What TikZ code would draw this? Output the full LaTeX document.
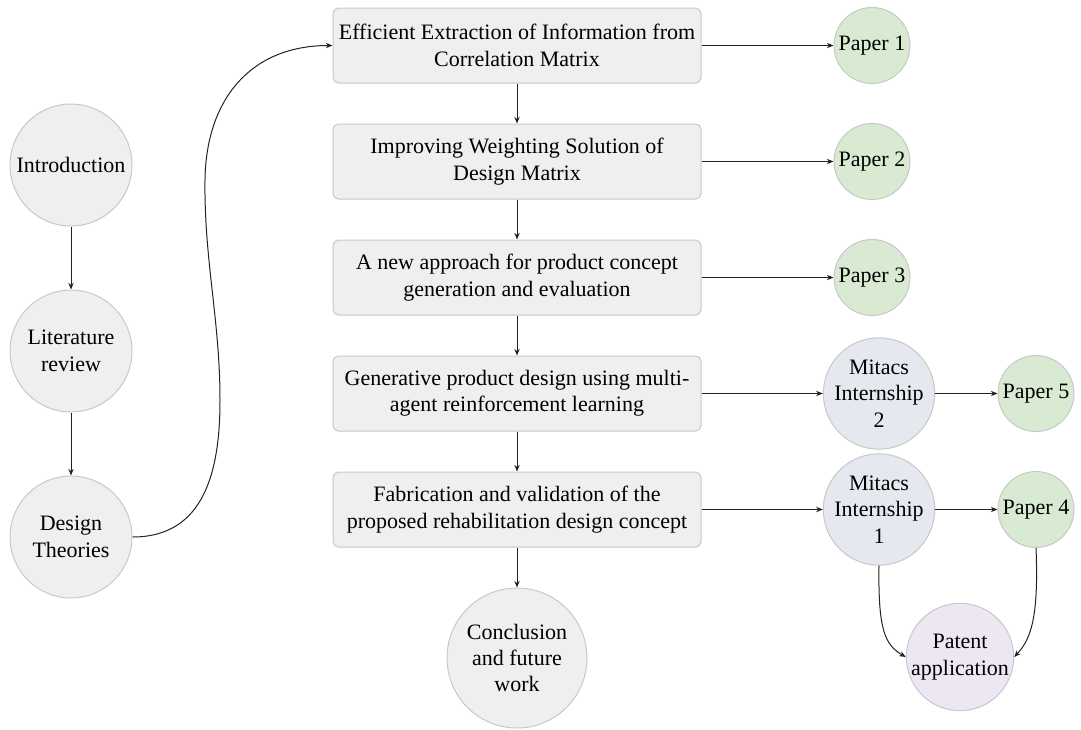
\documentclass[tikz,border=0pt]{standalone}
\usepackage{fontspec}
\setmainfont{Liberation Serif}
\usetikzlibrary{arrows.meta}
\definecolor{nodegray}{HTML}{EFEFEF}
\definecolor{edgegray}{HTML}{C8C8C8}
\definecolor{papergreen}{HTML}{D9EAD3}
\definecolor{mitacsblue}{HTML}{E5E8EF}
\definecolor{patentlilac}{HTML}{ECE7F3}
\definecolor{linkgray}{HTML}{222222}
\tikzset{
  x=0.75pt, y=-0.75pt,
  base/.style={draw=edgegray, line width=0.75pt, inner sep=0pt, align=center,
    font=\fontsize{16.5}{19.8}\selectfont},
  bubble/.style={base, circle, fill=nodegray, minimum size=91.5pt},
  stagebox/.style={base, rectangle, rounded corners=4pt, fill=nodegray,
    minimum width=276pt, minimum height=56.25pt},
  paper/.style={base, circle, fill=papergreen, minimum size=57pt},
  mitacs/.style={base, circle, fill=mitacsblue, minimum size=78pt},
  patent/.style={base, circle, fill=patentlilac, minimum size=79.5pt},
  endbubble/.style={base, circle, fill=nodegray, minimum size=105pt},
  link/.style={draw=linkgray, line width=0.75pt, -{Stealth[length=5pt,width=4pt]}},
}
\begin{document}
\begin{tikzpicture}
\useasboundingbox (0,0) rectangle (1081,729);

% left column
\node[bubble] (intro) at (71,165) {Introduction};
\node[bubble] (lit) at (71,351) {Literature\\review};
\node[bubble] (theory) at (71,537) {Design\\Theories};

% central column of stages
\node[stagebox] (s1) at (517,45.5) {Efficient Extraction of Information from\\Correlation Matrix};
\node[stagebox] (s2) at (517,161.5) {Improving Weighting Solution of\\Design Matrix};
\node[stagebox] (s3) at (517,277.5) {A new approach for product concept\\generation and evaluation};
\node[stagebox] (s4) at (517,393.5) {Generative product design using multi-\\agent reinforcement learning};
\node[stagebox] (s5) at (517,509.5) {Fabrication and validation of the\\proposed rehabilitation design concept};
\node[endbubble] (concl) at (517,658) {Conclusion\\and future\\work};

% outputs
\node[paper] (p1) at (872,45.5) {Paper 1};
\node[paper] (p2) at (872,161.5) {Paper 2};
\node[paper] (p3) at (872,277.5) {Paper 3};
\node[mitacs] (m2) at (879,393.5) {Mitacs\\Internship\\2};
\node[mitacs] (m1) at (879,509.5) {Mitacs\\Internship\\1};
\node[paper] (p5) at (1036,393.5) {Paper 5};
\node[paper] (p4) at (1036,509.5) {Paper 4};
\node[patent] (pat) at (960,657) {Patent\\application};

% connectors
\draw[link] (intro) -- (lit);
\draw[link] (lit) -- (theory);
\draw[link] (theory.east) .. controls (205,537) and (220,470) .. (220,400)
  .. controls (220,320) and (204,260) .. (205,180)
  .. controls (206,100) and (250,45.5) .. (s1.west);

\draw[link] (s1) -- (s2);
\draw[link] (s2) -- (s3);
\draw[link] (s3) -- (s4);
\draw[link] (s4) -- (s5);
\draw[link] (s5) -- (concl);

\draw[link] (s1) -- (p1);
\draw[link] (s2) -- (p2);
\draw[link] (s3) -- (p3);
\draw[link] (s4) -- (m2);
\draw[link] (s5) -- (m1);
\draw[link] (m2) -- (p5);
\draw[link] (m1) -- (p4);

\draw[link] (m1.south) .. controls (878,630) and (885,645) .. (pat.west);
\draw[link] (p4.south) .. controls (1039,620) and (1030,640) .. (pat.east);
\end{tikzpicture}
\end{document}
